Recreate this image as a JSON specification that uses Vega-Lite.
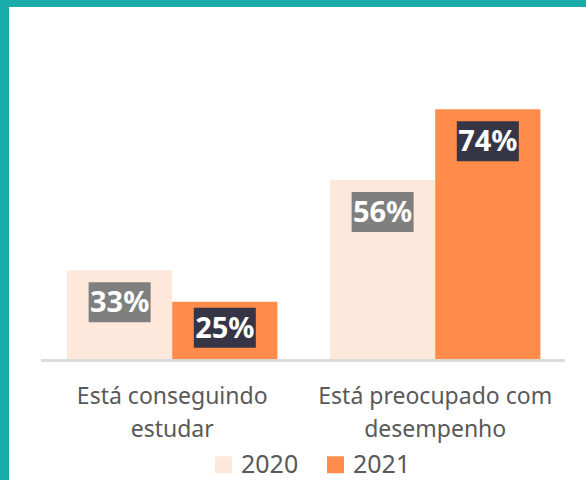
{
  "$schema": "https://vega.github.io/schema/vega-lite/v6.json",
  "width": 577,
  "height": 473,
  "autosize": "none",
  "padding": {"left": 9, "top": 7, "right": 0, "bottom": 0},
  "background": "#1AABAB",
  "config": {
    "view": {"fill": "white", "stroke": null},
    "font": "Noto Sans"
  },
  "data": {
    "values": [
      {"cat": "Está conseguindo estudar", "year": "2020", "value": 33, "label": "33%"},
      {"cat": "Está conseguindo estudar", "year": "2021", "value": 25, "label": "25%"},
      {"cat": "Está preocupado com desempenho", "year": "2020", "value": 56, "label": "56%"},
      {"cat": "Está preocupado com desempenho", "year": "2021", "value": 74, "label": "74%"}
    ]
  },
  "layer": [
    {
      "encoding": {
        "x": {
          "field": "cat", "type": "nominal", "sort": null,
          "scale": {"paddingInner": 0.2, "paddingOuter": 0.197, "align": 0.56},
          "axis": {
            "title": null, "orient": "bottom", "offset": -120,
            "domain": false, "ticks": false, "grid": false,
            "labelAngle": 0, "labelFont": "Noto Sans", "labelFontSize": 23,
            "labelColor": "#595959", "labelLineHeight": 33, "labelPadding": 25,
            "labelBaseline": "top", "labelLimit": 400,
            "labelExpr": "datum.value == 'Está conseguindo estudar' ? ['Está conseguindo', 'estudar'] : ['Está preocupado com', 'desempenho']"
          }
        },
        "xOffset": {"field": "year", "type": "nominal", "scale": {"paddingInner": 0, "paddingOuter": 0}},
        "y": {"field": "value", "type": "quantitative", "scale": {"domain": [-20.4, 100.05], "nice": false, "zero": false}, "axis": null}
      },
      "layer": [
        {
          "mark": {"type": "bar"},
          "encoding": {
            "y2": {"datum": 10},
            "color": {
              "field": "year", "type": "nominal",
              "scale": {"domain": ["2020", "2021"], "range": ["#FEE8DC", "#FF8C4B"]},
              "legend": {
                "title": null, "orient": "none", "legendX": 202, "legendY": 445,
                "direction": "horizontal", "symbolType": "square", "symbolSize": 289,
                "symbolStrokeWidth": 0, "labelFont": "Noto Sans", "labelFontSize": 25,
                "labelColor": "#595959", "labelOffset": 5, "columnPadding": 24
              }
            }
          }
        },
        {
          "mark": {"type": "bar", "width": 62,
            "yOffset": {"expr": "datum.value < 30 ? 6 : 12"},
            "y2Offset": {"expr": "datum.value < 30 ? 46 : 52"}},
          "encoding": {
            "y2": {"field": "value"},
            "fill": {
              "field": "year", "type": "nominal",
              "scale": {"domain": ["2020", "2021"], "range": ["#7F7F7F", "#363545"]},
              "legend": null
            }
          }
        },
        {
          "mark": {"type": "text", "font": "Noto Sans", "fontWeight": "bold", "fontSize": 29,
            "color": "white", "baseline": "middle",
            "yOffset": {"expr": "datum.value < 30 ? 27 : 33"}},
          "encoding": {
            "text": {"field": "label"}
          }
        }
      ]
    },
    {
      "mark": {"type": "rule", "color": "#D9D9D9", "strokeWidth": 2},
      "encoding": {
        "x": {"datum": 0, "type": "quantitative", "scale": {"domain": [-0.0611, 1.0401], "nice": false, "zero": false}, "axis": null},
        "x2": {"datum": 1},
        "y": {"datum": 10, "type": "quantitative"}
      }
    }
  ],
  "resolve": {"scale": {"x": "independent"}}
}
